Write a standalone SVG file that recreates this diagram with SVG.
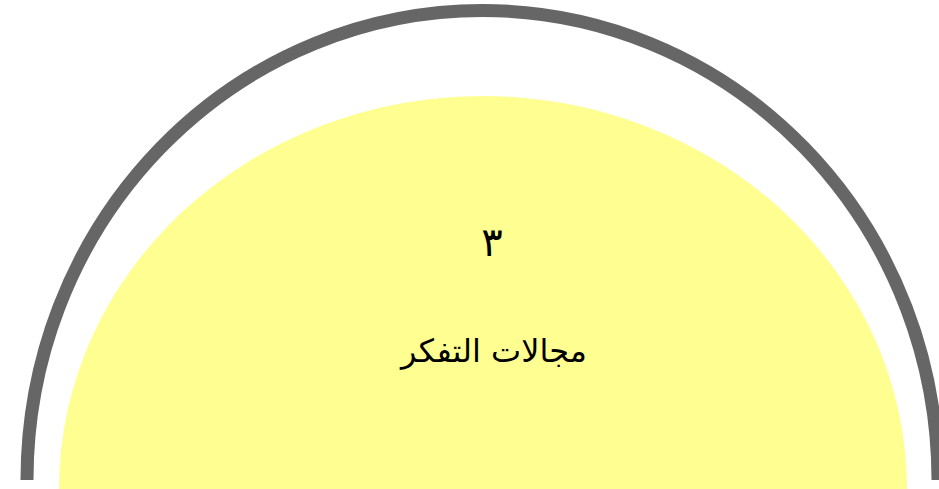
<svg xmlns="http://www.w3.org/2000/svg" width="939" height="489" viewBox="0 0 939 489">
<style>
.lbl{font-family:"DejaVu Sans","Liberation Sans",sans-serif;fill:#000;text-anchor:middle}
</style>
<rect width="939" height="489" fill="#fff"/>
<g id="outer-arc">
<path d="M27,480 A455.5,469.5 0 0 1 938,480" fill="none" stroke="#666666" stroke-width="13"/>
</g>
<g id="node-center">
<ellipse cx="483" cy="489" rx="424" ry="393" fill="#ffff91"/>
<text class="lbl" x="492" y="256" font-size="40">٣</text>
<text class="lbl" x="494" y="362" font-size="32" direction="rtl">مجالات التفكر</text>
</g>
</svg>
